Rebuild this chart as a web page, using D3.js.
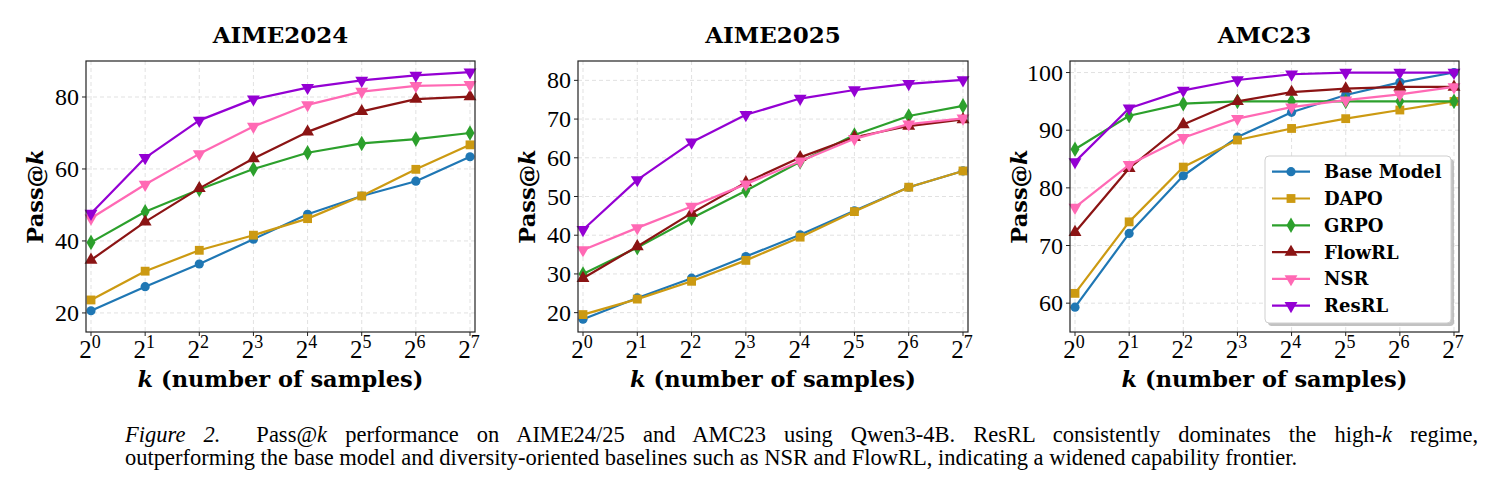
<!DOCTYPE html>
<html>
<head>
<meta charset="utf-8">
<script src="https://cdn.jsdelivr.net/npm/d3@7"></script>
<style>
  body { margin: 0; background: #fff; }
  svg { display: block; }
</style>
</head>
<body>
<svg width="1494" height="496"></svg>
<script>
// ---------------------------------------------------------------------------
// Data

var ks = [1, 2, 4, 8, 16, 32, 64, 128];
var methods = ["Base Model", "DAPO", "GRPO", "FlowRL", "NSR", "ResRL"];
var colors = ["#1f77b4", "#cc9a12", "#2ca02c", "#8b1414", "#ff69b4", "#9400d3"];
var shapes = ["circle", "square", "diamond", "triUp", "triDown", "triDown"];

var aime24 = [
    [20.6, 27.3, 33.6, 40.5, 47.4, 52.5, 56.6, 63.4],
    [23.6, 31.6, 37.4, 41.6, 46.2, 52.5, 59.9, 66.7],
    [39.6, 48.1, 54.3, 60.0, 64.5, 67.1, 68.3, 70.0],
    [34.7, 45.3, 54.6, 62.9, 70.3, 76.0, 79.4, 80.1],
    [46.3, 55.7, 64.2, 71.8, 77.8, 81.5, 83.1, 83.4],
    [47.6, 63.1, 73.5, 79.4, 82.6, 84.6, 86.0, 86.9]
];
var aime25 = [
    [18.3, 23.8, 28.9, 34.5, 40.1, 46.3, 52.4, 56.6],
    [19.5, 23.5, 28.1, 33.5, 39.5, 46.1, 52.4, 56.6],
    [30.0, 36.8, 44.4, 51.5, 59.0, 65.9, 70.8, 73.4],
    [28.9, 37.1, 45.7, 53.6, 60.1, 65.3, 68.2, 69.9],
    [36.2, 41.9, 47.4, 53.2, 59.1, 64.9, 68.7, 70.2],
    [41.4, 54.3, 64.0, 71.1, 75.3, 77.5, 79.1, 80.1]
];
var amc23 = [
    [59.3, 72.1, 82.1, 88.8, 93.1, 96.1, 98.3, 100.0],
    [61.7, 74.1, 83.6, 88.3, 90.3, 92.0, 93.5, 95.0],
    [86.7, 92.5, 94.6, 95.0, 95.0, 95.0, 95.0, 95.0],
    [72.3, 83.4, 91.0, 95.0, 96.6, 97.2, 97.5, 97.5],
    [76.6, 84.0, 88.7, 92.0, 94.0, 95.2, 96.2, 97.5],
    [84.5, 93.8, 96.9, 98.7, 99.7, 100.0, 100.0, 100.0]
];

var panels = [
    {title: "AIME2024", values: aime24, yDomain: [14.7, 90], yTicks: [20, 40, 60, 80], left: 86, right: 475, legend: false},
    {title: "AIME2025", values: aime25, yDomain: [15, 85], yTicks: [20, 30, 40, 50, 60, 70, 80], left: 578, right: 968, legend: false},
    {title: "AMC23", values: amc23, yDomain: [55, 102], yTicks: [60, 70, 80, 90, 100], left: 1070, right: 1459, legend: true}
];

// ---------------------------------------------------------------------------
// Drawing

var svg = d3.select("svg");
var plotTop = 61, plotBottom = 332;
var serifBold = "'DejaVu Serif', serif";
var tickFont = "'Liberation Serif', 'Times New Roman', serif";

function markerPath(shape) {
    if (shape === "circle") return d3.symbol(d3.symbolCircle, 66)();
    if (shape === "square") return d3.symbol(d3.symbolSquare, 78)();
    if (shape === "diamond") return d3.symbol(d3.symbolDiamond, 70)();
    return d3.symbol(d3.symbolTriangle, 72)();
}
function markerTransform(shape, x, y) {
    var t = "translate(" + x + "," + y + ")";
    if (shape === "triDown") t += " rotate(180)";
    return t;
}

panels.forEach(function(p) {
    var x = d3.scaleLog().base(2).domain([1, 128]).range([p.left + 5, p.right - 5]);
    var y = d3.scaleLinear().domain(p.yDomain).range([plotBottom, plotTop]);
    var g = svg.append("g");

    // grid
    g.selectAll(".gx").data(ks).enter().append("line")
        .attr("x1", function(d) { return x(d); }).attr("x2", function(d) { return x(d); })
        .attr("y1", plotTop).attr("y2", plotBottom)
        .attr("stroke", "#d9d9d9").attr("stroke-width", 0.8).attr("stroke-dasharray", "4,3");
    g.selectAll(".gy").data(p.yTicks).enter().append("line")
        .attr("y1", function(d) { return y(d); }).attr("y2", function(d) { return y(d); })
        .attr("x1", p.left).attr("x2", p.right)
        .attr("stroke", "#d9d9d9").attr("stroke-width", 0.8).attr("stroke-dasharray", "4,3");

    // series
    var line = d3.line()
        .x(function(d, i) { return x(ks[i]); })
        .y(function(d) { return y(d); });
    p.values.forEach(function(vals, si) {
        g.append("path")
            .attr("d", line(vals))
            .attr("fill", "none")
            .attr("stroke", colors[si])
            .attr("stroke-width", 2.2)
            .attr("stroke-linejoin", "round");
        g.selectAll(".m" + si).data(vals).enter().append("path")
            .attr("d", markerPath(shapes[si]))
            .attr("transform", function(d, i) { return markerTransform(shapes[si], x(ks[i]), y(d)); })
            .attr("fill", colors[si]);
    });

    // frame
    g.append("rect")
        .attr("x", p.left).attr("y", plotTop)
        .attr("width", p.right - p.left).attr("height", plotBottom - plotTop)
        .attr("fill", "none").attr("stroke", "#222").attr("stroke-width", 1.2);

    // y ticks
    p.yTicks.forEach(function(t) {
        g.append("line")
            .attr("x1", p.left - 4).attr("x2", p.left)
            .attr("y1", y(t)).attr("y2", y(t))
            .attr("stroke", "#222").attr("stroke-width", 1);
        g.append("text")
            .attr("x", p.left - 7).attr("y", y(t) + 8)
            .attr("text-anchor", "end")
            .attr("font-family", tickFont).attr("font-size", 24)
            .text(t);
    });

    // x ticks
    ks.forEach(function(k, i) {
        g.append("line")
            .attr("x1", x(k)).attr("x2", x(k))
            .attr("y1", plotBottom).attr("y2", plotBottom + 4)
            .attr("stroke", "#222").attr("stroke-width", 1);
        var t = g.append("text")
            .attr("x", x(k) - 1).attr("y", 358)
            .attr("text-anchor", "middle")
            .attr("font-family", tickFont).attr("font-size", 25);
        t.append("tspan").text("2");
        t.append("tspan").attr("font-size", 18).attr("dy", -10).text(i);
    });

    var cx = (p.left + p.right) / 2;

    // title
    g.append("text")
        .attr("x", cx).attr("y", 43)
        .attr("text-anchor", "middle")
        .attr("font-family", serifBold).attr("font-weight", "bold").attr("font-size", 23)
        .text(p.title);

    // x label
    var xl = g.append("text")
        .attr("x", cx).attr("y", 387)
        .attr("text-anchor", "middle")
        .attr("font-family", serifBold).attr("font-weight", "bold").attr("font-size", 22.5);
    xl.append("tspan").attr("font-style", "italic").text("k");
    xl.append("tspan").text(" (number of samples)");

    // y label
    var yl = g.append("text")
        .attr("transform", "translate(" + (p.left - 43) + "," + ((plotTop + plotBottom) / 2) + ") rotate(-90)")
        .attr("text-anchor", "middle")
        .attr("font-family", serifBold).attr("font-weight", "bold").attr("font-size", 22.5);
    yl.append("tspan").text("Pass@");
    yl.append("tspan").attr("font-style", "italic").text("k");

    // legend
    if (p.legend) {
        var lx = 1265, ly = 156, lw = 186, lh = 167;
        g.append("rect")
            .attr("x", lx + 3).attr("y", ly + 3).attr("width", lw).attr("height", lh)
            .attr("rx", 4).attr("fill", "#999").attr("opacity", 0.6);
        g.append("rect")
            .attr("x", lx).attr("y", ly).attr("width", lw).attr("height", lh)
            .attr("rx", 4).attr("fill", "#fff").attr("stroke", "#cfcfcf").attr("stroke-width", 1);
        methods.forEach(function(m, i) {
            var yy = 171.7 + i * 26.8;
            g.append("line")
                .attr("x1", 1272).attr("x2", 1310).attr("y1", yy).attr("y2", yy)
                .attr("stroke", colors[i]).attr("stroke-width", 2.2);
            g.append("path")
                .attr("d", markerPath(shapes[i]))
                .attr("transform", markerTransform(shapes[i], 1291, yy))
                .attr("fill", colors[i]);
            g.append("text")
                .attr("x", 1324).attr("y", yy + 6.5)
                .attr("font-family", serifBold).attr("font-weight", "bold").attr("font-size", 18)
                .text(m);
        });
    }
});

// ---------------------------------------------------------------------------
// Caption (first line justified by widening the word gaps)

var capFont = "'Liberation Serif', 'Times New Roman', serif";
var c1 = svg.append("text")
    .attr("x", 125).attr("y", 442)
    .attr("font-family", capFont).attr("font-size", 22.5)
    .attr("xml:space", "preserve");
c1.append("tspan").attr("font-style", "italic").text("Figure 2.");
c1.append("tspan").text("  Pass@");
c1.append("tspan").attr("font-style", "italic").text("k");
c1.append("tspan").text(" performance on AIME24/25 and AMC23 using Qwen3-4B. ResRL consistently dominates the high-");
c1.append("tspan").attr("font-style", "italic").text("k");
c1.append("tspan").text(" regime,");

var natural = c1.node().getComputedTextLength();
var nSpaces = (c1.text().match(/ /g) || []).length;
if (natural < 1353 && nSpaces > 0) {
    c1.attr("word-spacing", (1353 - natural) / nSpaces);
}

svg.append("text")
    .attr("x", 125).attr("y", 465)
    .attr("font-family", capFont).attr("font-size", 22.5)
    .text("outperforming the base model and diversity-oriented baselines such as NSR and FlowRL, indicating a widened capability frontier.");
</script>
</body>
</html>
